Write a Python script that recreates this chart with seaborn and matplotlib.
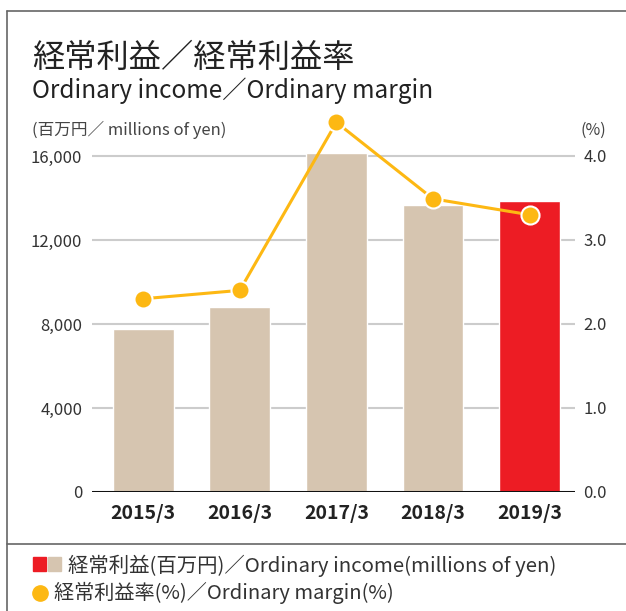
import matplotlib
matplotlib.use("Agg")
import matplotlib.pyplot as plt
import seaborn as sns
import pandas as pd
from matplotlib.lines import Line2D
from matplotlib.patches import Rectangle

# data
years = ["2015/3", "2016/3", "2017/3", "2018/3", "2019/3"]
income = [7760, 8810, 16140, 13670, 13860]        # millions of yen
margin = [2.30, 2.40, 4.40, 3.49, 3.30]           # %
left_ticks = [0, 4000, 8000, 12000, 16000]
right_ticks = [0.0, 1.0, 2.0, 3.0, 4.0]

beige = "#D6C5B0"
red = "#ED1C24"
orange = "#FDB813"

sns.set_theme(style="white")
plt.rcParams["font.family"] = ["Noto Sans CJK JP", "DejaVu Sans"]

df = pd.DataFrame({"year": years, "income": income, "margin": margin})
bar_colors = [beige] * (len(years) - 1) + [red]

fig = plt.figure(figsize=(6.26, 6.11), dpi=100)
ax = fig.add_axes([0.147, 0.1948, 0.7715, 0.6187])

sns.barplot(data=df, x="year", y="income", hue="year", palette=bar_colors,
            legend=False, width=0.63, saturation=1, ax=ax, zorder=2)
ax.set_ylim(0, 18000)
ax.set_xlim(-0.53, 4.47)
ax.set_yticks(left_ticks)
ax.set_yticklabels([f"{v:,}" for v in left_ticks], fontsize=12, color="#333333")
ax.set_xlabel("")
ax.set_ylabel("")
for v in left_ticks[1:]:
    ax.axhline(v, color="#CCCCCC", lw=1.5, zorder=1)
ax.axhline(0, color="#111111", lw=2.2, zorder=3)
for s in ax.spines.values():
    s.set_visible(False)
ax.tick_params(axis="y", length=0, pad=7)
ax.tick_params(axis="x", length=0, pad=9)
for lab in ax.get_xticklabels():
    lab.set_fontsize(14)
    lab.set_fontweight("semibold")
    lab.set_color("#222222")

ax2 = ax.twinx()
sns.pointplot(data=df, x="year", y="margin", color=orange, markers="o",
              markersize=13, linewidth=2.2, markeredgecolor="white",
              markeredgewidth=1.5, ax=ax2)
ax2.set_ylim(0, 4.5)
ax2.set_yticks(right_ticks)
ax2.set_yticklabels([f"{v:.1f}" for v in right_ticks], fontsize=12, color="#333333")
ax2.set_ylabel("")
ax2.set_xlabel("")
for s in ax2.spines.values():
    s.set_visible(False)
ax2.tick_params(axis="y", length=0, pad=6)
ax2.set_xlim(-0.53, 4.47)

# titles and unit labels
fig.text(0.051, 0.905, "経常利益／経常利益率", fontsize=23.2, color="#222222", va="center")
fig.text(0.051, 0.852, "Ordinary income／Ordinary margin", fontsize=17.5,
         color="#222222", va="center")
fig.text(0.051, 0.787, "(百万円／ millions of yen)", fontsize=12, color="#444444", va="center")
fig.text(0.928, 0.787, "(%)", fontsize=11.5, color="#444444", va="center")

# frame
fc = "#666666"
fig.add_artist(Line2D([0.011, 1.0], [0.982, 0.982], color=fc, lw=1.2))
fig.add_artist(Line2D([0.011, 0.011], [0.0, 0.982], color=fc, lw=1.2))
fig.add_artist(Line2D([0.011, 1.0], [0.109, 0.109], color=fc, lw=1.2))

# legend
fig.add_artist(Rectangle((0.053, 0.066), 0.021, 0.022, color=red, transform=fig.transFigure))
fig.add_artist(Rectangle((0.077, 0.066), 0.021, 0.022, color=beige, transform=fig.transFigure))
fig.text(0.108, 0.074, "経常利益(百万円)／Ordinary income(millions of yen)",
         fontsize=14.7, color="#333333", va="center")
fig.add_artist(Line2D([0.064], [0.030], marker="o", markersize=11, color=orange,
                      transform=fig.transFigure))
fig.text(0.087, 0.030, "経常利益率(%)／Ordinary margin(%)",
         fontsize=14.5, color="#333333", va="center")

fig.savefig("out.png", dpi=100)
